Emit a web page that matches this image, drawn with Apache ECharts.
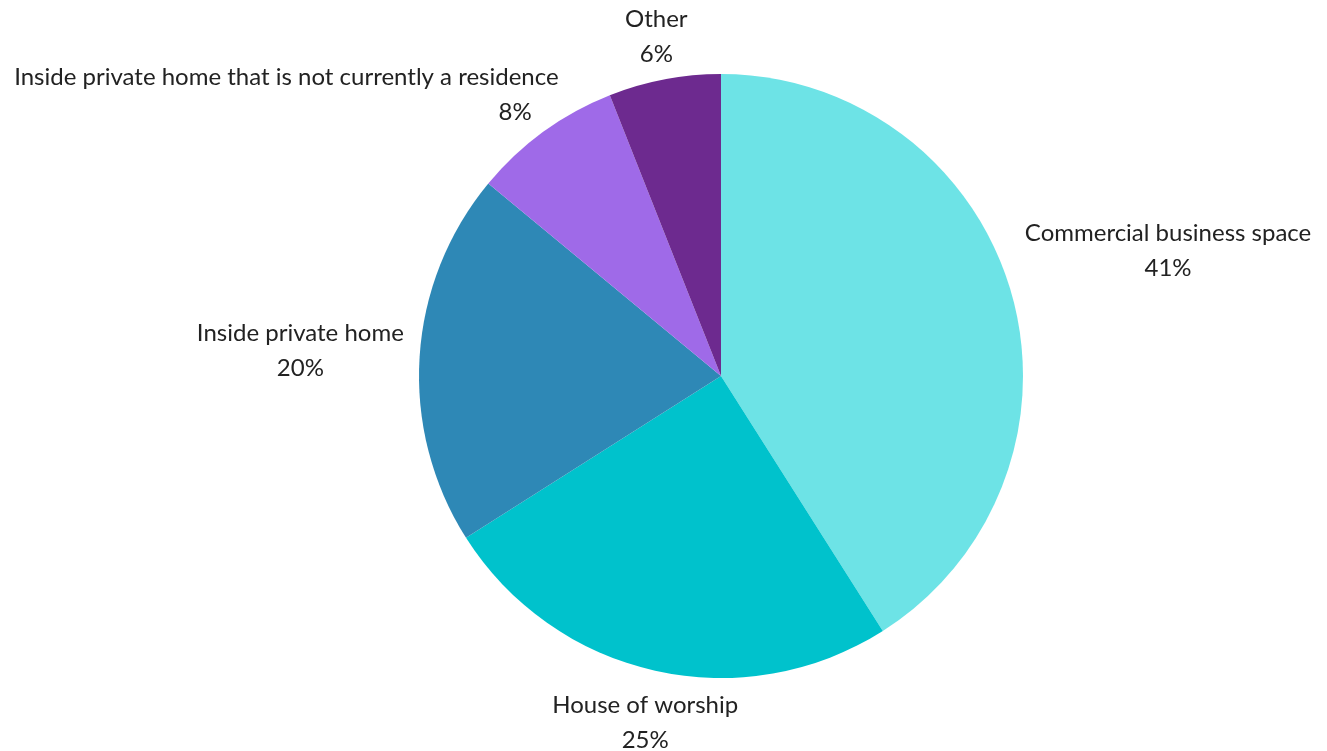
<!DOCTYPE html>
<html>
<head>
<meta charset="utf-8">
<script src="https://cdn.jsdelivr.net/npm/echarts@6/dist/echarts.min.js"></script>
<style>
html,body{margin:0;padding:0;background:#fff;}
#chart{width:1327px;height:751px;}
</style>
</head>
<body>
<div id="chart"></div>
<script>
// ---- data ----
const categories = [
  'Commercial business space',
  'House of worship',
  'Inside private home',
  'Inside private home that is not currently a residence',
  'Other'
];
const shares = [41, 25, 20, 8, 6];
const sliceColors = ['#6de3e6', '#00c2cc', '#2e88b6', '#9f6ae8', '#6d2a8f'];

// ---- layout ----
const CX = 721, CY = 376, R = 302, LABEL_GAP = 12;
const FONT = 'Lato', FONT_SIZE = 24, LINE_H = 35;
const labelNudge = [[8, -28], [13, 6], [-4, -3], [-90, 1], [0, 4]];
const valueAlign = ['center', 'center', 'center', 'right', 'center'];

const total = shares.reduce((a, b) => a + b, 0);
const midDirs = shares.map((v, i) => {
  const before = shares.slice(0, i).reduce((a, b) => a + b, 0);
  const a = (before + v / 2) / total * Math.PI * 2;
  return [Math.sin(a), -Math.cos(a)];
});

const txt = {fontFamily: FONT, fontSize: FONT_SIZE, lineHeight: LINE_H, color: '#222222'};

const chart = echarts.init(document.getElementById('chart'), null, {renderer: 'canvas'});
chart.setOption({
  animation: false,
  backgroundColor: '#ffffff',
  series: [{
    type: 'pie',
    center: [CX, CY],
    radius: R,
    startAngle: 90,
    clockwise: true,
    avoidLabelOverlap: false,
    data: categories.map((c, i) => ({
      name: c,
      value: shares[i],
      itemStyle: {color: sliceColors[i]}
    })),
    itemStyle: {borderWidth: 0},
    label: {
      show: true,
      position: 'outside',
      formatter: p => '{n|' + p.name + '}\n{' + (valueAlign[p.dataIndex] === 'right' ? 'r' : 'v') + '|' + p.value + '%}',
      fontFamily: FONT,
      fontSize: FONT_SIZE,
      lineHeight: LINE_H,
      color: '#222222',
      align: 'center',
      rich: {
        n: Object.assign({align: 'center'}, txt),
        v: Object.assign({align: 'center'}, txt),
        r: Object.assign({align: 'right', padding: [0, 27, 0, 0]}, txt)
      }
    },
    labelLine: {show: false},
    emphasis: {disabled: true},
    labelLayout: function (params) {
      const i = params.dataIndex;
      const d = midDirs[i];
      const w = params.labelRect.width, h = params.labelRect.height;
      const px = CX + d[0] * (R + LABEL_GAP);
      const py = CY + d[1] * (R + LABEL_GAP);
      return {
        x: px + d[0] * w / 2 + labelNudge[i][0],
        y: py + d[1] * h / 2 + labelNudge[i][1],
        align: 'center',
        verticalAlign: 'middle'
      };
    }
  }]
});
</script>
</body>
</html>
